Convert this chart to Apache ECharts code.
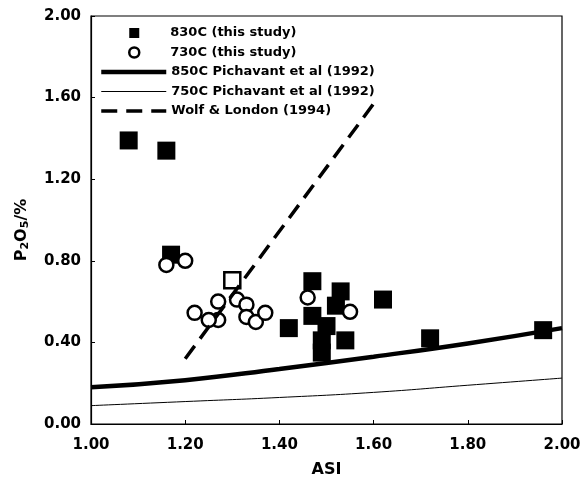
<!DOCTYPE html>
<html><head><meta charset="utf-8">
<script src="https://cdn.jsdelivr.net/npm/echarts@6/dist/echarts.min.js"></script>
<style>html,body{margin:0;padding:0;background:#fff}#c{width:587px;height:485px}</style>
</head><body><div id="c"></div>
<script>
// 830C (this study) - filled squares
const asi830 = [1.08, 1.16, 1.17, 1.47, 1.53, 1.62, 1.42, 1.47, 1.50, 1.49, 1.49, 1.52, 1.54, 1.72, 1.96];
const p830   = [1.39, 1.34, 0.83, 0.70, 0.65, 0.61, 0.47, 0.53, 0.48, 0.41, 0.35, 0.58, 0.41, 0.42, 0.46];
// 730C (this study) - open circles
const asi730 = [1.16, 1.20, 1.27, 1.31, 1.33, 1.22, 1.27, 1.25, 1.33, 1.35, 1.37, 1.46, 1.55];
const p730   = [0.78, 0.80, 0.60, 0.61, 0.585, 0.545, 0.51, 0.51, 0.525, 0.50, 0.545, 0.62, 0.55];
// unlabelled open square
const asiOpenSq = [1.30];
const pOpenSq   = [0.705];
// 850C Pichavant et al (1992)
const asi850 = [1.00, 1.20, 1.40, 1.60, 1.80, 2.00];
const p850   = [0.18, 0.215, 0.27, 0.33, 0.395, 0.47];
// 750C Pichavant et al (1992)
const asi750 = [1.00, 1.20, 1.40, 1.60, 1.80, 2.00];
const p750   = [0.09, 0.11, 0.13, 0.155, 0.19, 0.225];
// Wolf & London (1994)
const asiWL = [1.20, 1.60];
const pWL   = [0.32, 1.57];

const zip = (a, b) => a.map((v, i) => [v, b[i]]);
const font = 'DejaVu Sans, Verdana, sans-serif';
const legText = {fontFamily: font, fontWeight: 'bold', fontSize: 13, color: '#000', lineHeight: 14};

const chart = echarts.init(document.getElementById('c'), null, {renderer: 'canvas'});
chart.setOption({
  animation: false,
  backgroundColor: '#fff',
  grid: {left: 91, right: 25, top: 16, bottom: 61, show: true, borderColor: '#000', borderWidth: 1.2},
  legend: [
    {
      orient: 'vertical', left: 123, top: 21, itemGap: 5.5,
      itemWidth: 10, itemHeight: 10,
      textStyle: Object.assign({}, legText, {padding: [0, 0, 0, 26]}),
      data: [
        {name: '830C (this study)', itemStyle: {color: '#000', opacity: 1}},
        {name: '730C (this study)', itemStyle: {color: '#fff', borderColor: '#000', borderWidth: 2.5, opacity: 1}}
      ]
    },
    {
      orient: 'vertical', left: 94, top: 60, itemGap: 5.5,
      itemWidth: 65, itemHeight: 14,
      itemStyle: {opacity: 0},
      textStyle: Object.assign({}, legText, {padding: [0, 0, 0, 0]}),
      data: [
        {name: '850C Pichavant et al (1992)', lineStyle: {width: 4.5, color: '#000'}},
        {name: '750C Pichavant et al (1992)', lineStyle: {width: 1, color: '#000'}},
        {name: 'Wolf & London (1994)', lineStyle: {width: 3.5, color: '#000', type: [16, 9]}}
      ]
    }
  ],
  xAxis: {
    type: 'value', min: 1.0, max: 2.0, interval: 0.2,
    name: 'ASI', nameLocation: 'middle', nameGap: 38,
    nameTextStyle: {fontFamily: font, fontWeight: 'bold', fontSize: 16, color: '#000'},
    axisLine: {show: true, lineStyle: {color: '#000', width: 1.2}},
    axisTick: {show: true, inside: true, length: 4, lineStyle: {color: '#000'}},
    axisLabel: {fontFamily: font, fontWeight: 'bold', fontSize: 15, color: '#000', margin: 14,
      formatter: v => v.toFixed(2)},
    splitLine: {show: false}
  },
  yAxis: {
    type: 'value', min: 0, max: 2.0, interval: 0.4,
    name: 'P{s|2}O{s|5}/%', nameLocation: 'middle', nameGap: 60,
    nameTextStyle: {fontFamily: font, fontWeight: 'bold', fontSize: 16, color: '#000', padding: [0, 20, 0, 0],
      rich: {s: {fontFamily: font, fontWeight: 'bold', fontSize: 11, color: '#000', verticalAlign: 'bottom', padding: [7, 0, 0, 0]}}},
    axisLine: {show: true, lineStyle: {color: '#000', width: 1.2}},
    axisTick: {show: true, inside: true, length: 4, lineStyle: {color: '#000'}},
    axisLabel: {fontFamily: font, fontWeight: 'bold', fontSize: 15, color: '#000', margin: 10,
      formatter: v => v.toFixed(2)},
    splitLine: {show: false}
  },
  series: [
    {
      name: '830C (this study)', type: 'scatter', symbol: 'rect', symbolSize: 18, z: 3,
      itemStyle: {color: '#000', opacity: 1},
      data: zip(asi830, p830)
    },
    {
      name: '730C (this study)', type: 'scatter', symbol: 'circle', symbolSize: 14, z: 4,
      itemStyle: {color: '#fff', borderColor: '#000', borderWidth: 2.5, opacity: 1},
      data: zip(asi730, p730)
    },
    {
      name: 'open square', type: 'scatter', symbol: 'rect', symbolSize: 16, z: 4,
      itemStyle: {color: '#fff', borderColor: '#000', borderWidth: 2.5, opacity: 1},
      data: zip(asiOpenSq, pOpenSq)
    },
    {
      name: '850C Pichavant et al (1992)', type: 'line', smooth: true, symbol: 'none', z: 5,
      itemStyle: {color: '#000'},
      lineStyle: {color: '#000', width: 4.5},
      data: zip(asi850, p850)
    },
    {
      name: '750C Pichavant et al (1992)', type: 'line', smooth: true, symbol: 'none', z: 5,
      itemStyle: {color: '#000'},
      lineStyle: {color: '#000', width: 1},
      data: zip(asi750, p750)
    },
    {
      name: 'Wolf & London (1994)', type: 'line', symbol: 'none', z: 6,
      itemStyle: {color: '#000'},
      lineStyle: {color: '#000', width: 3.5, type: [16, 9]},
      data: zip(asiWL, pWL)
    }
  ]
});
</script>
</body></html>
